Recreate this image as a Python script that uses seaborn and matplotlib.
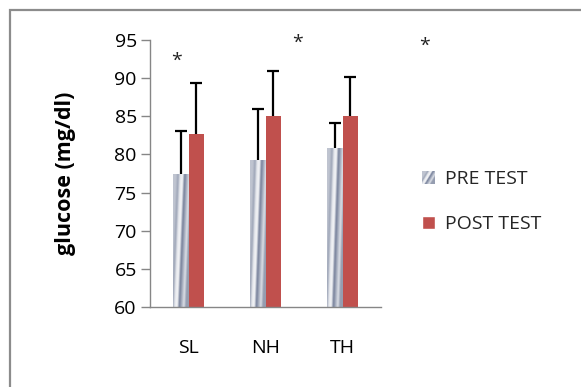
import matplotlib
matplotlib.use("Agg")
import matplotlib.pyplot as plt
import numpy as np
import pandas as pd
import seaborn as sns
from matplotlib.colors import LinearSegmentedColormap
from matplotlib.image import BboxImage
from matplotlib.legend_handler import HandlerBase
from matplotlib.patches import Patch, Rectangle
from matplotlib.transforms import Bbox, TransformedBbox

# values
groups = ["SL", "NH", "TH"]
tests = ["PRE TEST", "POST TEST"]
pre_mean = [77.4, 79.3, 80.9]
pre_sd = [5.7, 6.7, 3.2]
post_mean = [82.7, 85.1, 85.1]
post_sd = [6.6, 5.9, 5.1]
# significance stars: (x in category units, y in mg/dl)
star_x = [-0.15, 1.42, 3.07]
star_y = [92.3, 94.6, 94.2]

df = pd.DataFrame({
    "group": groups * 2,
    "test": [tests[0]] * 3 + [tests[1]] * 3,
    "glucose": pre_mean + post_mean,
    "sd": pre_sd + post_sd,
})

sns.set_theme(style="white")
plt.rcParams["font.family"] = ["Open Sans", "DejaVu Sans"]

# metallic grey-blue fill used by the PRE TEST bars
steel = LinearSegmentedColormap.from_list(
    "steel",
    ["#bfc4d0", "#9ea6b8", "#e6e8ed", "#f4f5f7", "#76809a", "#aab1c1", "#dcdfe6", "#959db0"],
)


def steel_grid(nx=40, ny=200, skew=0.35):
    u = np.linspace(0, 1, nx)[None, :]
    v = np.linspace(0, 1, ny)[:, None]
    return np.clip(u - skew * (v - 0.5), 0, 1)


class SteelHandler(HandlerBase):
    def create_artists(self, legend, orig_handle, xdescent, ydescent,
                       width, height, fontsize, trans):
        bb = Bbox.from_bounds(-xdescent, -ydescent, width, height)
        img = BboxImage(TransformedBbox(bb, trans), cmap=steel,
                        interpolation="bilinear", origin="lower")
        img.set_data(steel_grid(20, 20, 0.6))
        return [img]


fig = plt.figure(figsize=(5.81, 3.87), dpi=100)
ax = fig.add_axes([150 / 581, 1 - 307 / 387, 231 / 581, 267 / 387])

sns.barplot(
    data=df, x="group", y="glucose", hue="test",
    order=groups, hue_order=tests,
    palette={tests[0]: "#b9bfcc", tests[1]: "#c0504d"},
    saturation=1, width=0.4, errorbar=None, legend=False, linewidth=0, ax=ax,
)

# bars: pair them up per category by x position
bars = sorted(ax.patches, key=lambda p: p.get_x())
pre_bars = bars[0::2]
post_bars = bars[1::2]

for bar in pre_bars:
    x0, w = bar.get_x(), bar.get_width()
    im = ax.imshow(steel_grid(), cmap=steel, aspect="auto", origin="lower",
                   extent=(x0, x0 + w, 60, bar.get_height()),
                   interpolation="bilinear", zorder=bar.get_zorder() + 0.1)
    im.set_clip_path(bar)
ax.set_xlim(-0.5, 2.5)
ax.set_ylim(60, 95)

# upward-only error bars, cap drawn only at the top
for bars_, means, sds in ((pre_bars, pre_mean, pre_sd), (post_bars, post_mean, post_sd)):
    xs = np.array([b.get_x() + b.get_width() / 2 for b in bars_])
    tops = np.array(means) + np.array(sds)
    ax.vlines(xs, means, tops, color="black", linewidth=1.6, zorder=5)
    ax.plot(xs, tops, linestyle="none", marker="_", markersize=8,
            markeredgewidth=1.6, color="black", zorder=5)

for sx, sy in zip(star_x, star_y):
    ax.text(sx, sy, "*", ha="center", va="center", fontsize=14,
            color="#222222", clip_on=False)

ax.set_yticks(range(60, 96, 5))
ax.set_xlabel("")
ax.set_ylabel("glucose (mg/dl)", fontsize=15.5, fontweight="bold", color="black")
ax.yaxis.set_label_coords(-0.32, 0.5)
ax.tick_params(axis="y", labelsize=14, length=6.5, width=1, color="#868686",
               labelcolor="black", pad=3, left=True)
ax.tick_params(axis="x", labelsize=14, length=0, pad=23, labelcolor="black")

for side in ("top", "right"):
    ax.spines[side].set_visible(False)
for side in ("left", "bottom"):
    ax.spines[side].set_color("#868686")
    ax.spines[side].set_linewidth(1)

handles = [Patch(facecolor="#b9bfcc"), Patch(facecolor="#c0504d")]
fig.legend(
    handles, tests, loc="center left", bbox_to_anchor=(422 / 581, 1 - 201.5 / 387),
    frameon=False, fontsize=14, handlelength=0.65, handleheight=0.65,
    handletextpad=0.55, labelspacing=1.4, borderpad=0, borderaxespad=0,
    handler_map={handles[0]: SteelHandler()},
)

# outer chart-area frame (open at right and bottom)
fig.add_artist(Rectangle((10 / 581, -0.05), 1.0, 1 - 10 / 387 + 0.05,
                         transform=fig.transFigure, fill=False,
                         edgecolor="#8c8c8c", linewidth=1.6))

fig.savefig("out.png", dpi=100, facecolor="white")
